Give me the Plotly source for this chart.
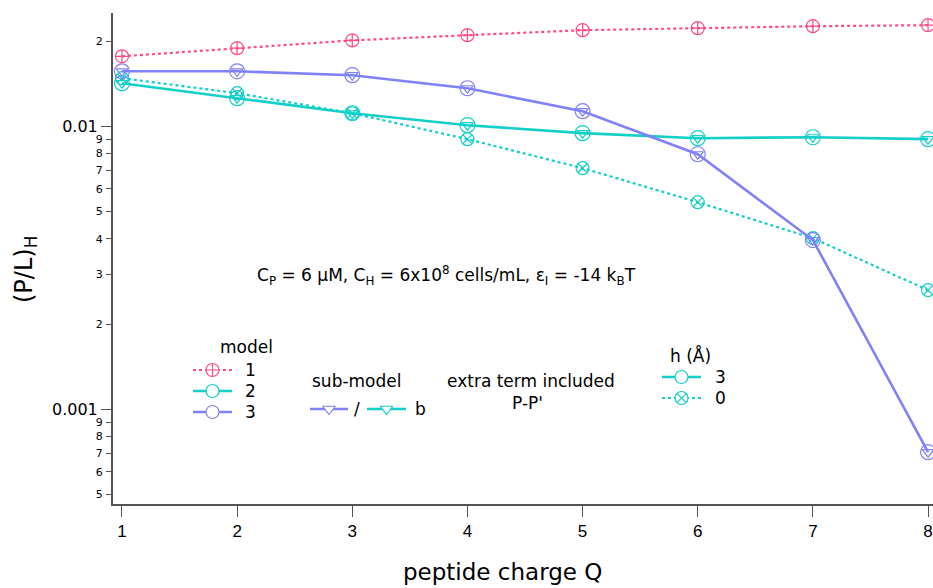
import plotly.graph_objects as go

# ---- data ----
charge_Q = [1, 2, 3, 4, 5, 6, 7, 8]
model1 = [0.01766, 0.01887, 0.0201, 0.02097, 0.02184, 0.0222, 0.02256, 0.02275]
model3b = [0.01563, 0.01563, 0.01514, 0.01362, 0.01130, 0.00796, 0.00396, 0.000705]
model2b_h3 = [0.01419, 0.01256, 0.01111, 0.01008, 0.00945, 0.00907, 0.00914, 0.00900]
model2b_h0 = [0.01478, 0.01308, 0.01111, 0.00900, 0.00711, 0.00539, 0.00402, 0.002634]

x_ticks = [1, 2, 3, 4, 5, 6, 7, 8]
y_major_vals = [0.01, 0.001]
y_major_text = ["0.01", "0.001"]
y_minor_vals = [0.02, 0.009, 0.008, 0.007, 0.006, 0.005, 0.004, 0.003, 0.002,
                0.0009, 0.0008, 0.0007, 0.0006, 0.0005]
y_minor_text = ["2", "9", "8", "7", "6", "5", "4", "3", "2", "9", "8", "7", "6", "5"]

PINK = "#ff4a88"
TEAL = "#12cfc8"
PURPLE = "#8181fb"
AX = "#555555"
FONT = "DejaVu Sans"
TICKFONT = "Liberation Sans"

fig = go.Figure()

# model 1 (dotted, circle-cross)
fig.add_trace(go.Scatter(x=charge_Q, y=model1, mode="lines+markers",
                         line=dict(color=PINK, width=2.2, dash="dot"),
                         marker=dict(symbol="circle-cross-open", size=13, color=PINK,
                                     line=dict(width=1.2, color=PINK))))
# model 2, h=0 (dotted, circle-x)
fig.add_trace(go.Scatter(x=charge_Q, y=model2b_h0, mode="lines+markers",
                         line=dict(color=TEAL, width=2.2, dash="dot"),
                         marker=dict(symbol="circle-x-open", size=13, color=TEAL,
                                     line=dict(width=1.2, color=TEAL))))
# model 2, h=3 sub-model b
fig.add_trace(go.Scatter(x=charge_Q, y=model2b_h3, mode="lines+markers",
                         line=dict(color=TEAL, width=2.6),
                         marker=dict(symbol="circle-open", size=15, color=TEAL,
                                     line=dict(width=1.2, color=TEAL))))
fig.add_trace(go.Scatter(x=charge_Q, y=model2b_h3, mode="markers",
                         marker=dict(symbol="triangle-down-open", size=10, color=TEAL,
                                     line=dict(width=1.2, color=TEAL))))
# model 3 sub-model b
fig.add_trace(go.Scatter(x=charge_Q, y=model3b, mode="lines+markers",
                         line=dict(color=PURPLE, width=2.6),
                         marker=dict(symbol="circle-open", size=15, color=PURPLE,
                                     line=dict(width=1.2, color=PURPLE))))
fig.add_trace(go.Scatter(x=charge_Q, y=model3b, mode="markers",
                         marker=dict(symbol="triangle-down-open", size=10, color=PURPLE,
                                     line=dict(width=1.2, color=PURPLE))))

# minor-axis helper trace (invisible) so yaxis2 renders
fig.add_trace(go.Scatter(x=[charge_Q[0]], y=[model1[0]], mode="markers",
                         marker=dict(opacity=0), yaxis="y2", hoverinfo="skip"))

# ---- legend glyphs on a pixel-like overlay axis ----
def glyph(x0, x1, y, color, dash, symbol, size=13):
    fig.add_trace(go.Scatter(x=[x0, x1], y=[y, y], mode="lines", xaxis="x3", yaxis="y3",
                             line=dict(color=color, width=2.4 if dash == "solid" else 2.2, dash=dash),
                             hoverinfo="skip"))
    fig.add_trace(go.Scatter(x=[(x0 + x1) / 2], y=[y], mode="markers", xaxis="x3", yaxis="y3",
                             marker=dict(symbol=symbol, size=size, color="white",
                                         line=dict(width=1.2, color=color)),
                             hoverinfo="skip"))

glyph(193, 232, 370, PINK, "dot", "circle-cross")
glyph(193, 232, 391, TEAL, "solid", "circle")
glyph(193, 232, 412, PURPLE, "solid", "circle")
glyph(310, 348, 409, PURPLE, "solid", "triangle-down", 11)
glyph(367, 406, 409, TEAL, "solid", "triangle-down", 11)
glyph(662, 701, 377, TEAL, "solid", "circle")
glyph(662, 701, 398, TEAL, "dot", "circle-x")

ann = []
def txt(x, y, s, size=17, anchor="center"):
    ann.append(dict(x=x, y=y, xref="x3", yref="y3", text=s, showarrow=False,
                    xanchor=anchor, yanchor="middle", font=dict(size=size, color="black", family=FONT)))

txt(246, 347, "model")
txt(243, 370, "1", anchor="left")
txt(243, 391, "2", anchor="left")
txt(243, 412, "3", anchor="left")
txt(357, 381, "sub-model")
txt(357, 409, "/")
txt(413, 409, "b", anchor="left")
txt(531, 381, "extra term included")
txt(527, 403, "P-P'")
txt(690, 355, "h (Å)")
txt(713, 377, "3", anchor="left")
txt(713, 398, "0", anchor="left")
txt(446, 275, "C<sub>P</sub> = 6 μM, C<sub>H</sub> = 6x10<sup>8</sup> cells/mL, ε<sub>I</sub> = -14 k<sub>B</sub>T")

# axis titles (paper coordinates)
ann.append(dict(x=(25 - 113) / 820, y=(504 - 270) / 491, xref="paper", yref="paper",
                text="(P/L)<sub>H</sub>", showarrow=False, textangle=-90,
                xanchor="center", yanchor="middle",
                font=dict(size=24, color="black", family=FONT)))
ann.append(dict(x=(502 - 113) / 820, y=(504 - 572) / 491, xref="paper", yref="paper",
                text="peptide charge Q", showarrow=False, xanchor="center", yanchor="middle",
                font=dict(size=23, color="black", family=FONT)))

yr = [-3.335, -1.600]
fig.update_layout(
    width=933, height=588,
    margin=dict(l=113, r=0, t=13, b=84),
    paper_bgcolor="white", plot_bgcolor="white",
    showlegend=False,
    font=dict(family=FONT, color="black"),
    annotations=ann,
    xaxis=dict(range=[0.922, 8.043], tickvals=x_ticks, ticks="outside", ticklen=11,
               tickwidth=1.2, tickcolor=AX, showline=True, linecolor=AX, linewidth=2,
               showgrid=False, zeroline=False, tickfont=dict(size=17, family=TICKFONT)),
    yaxis=dict(type="log", range=yr, tickvals=y_major_vals, ticktext=y_major_text,
               ticks="outside", ticklen=10, tickwidth=1.2, tickcolor=AX, showline=True,
               linecolor=AX, linewidth=2, showgrid=False, zeroline=False,
               tickfont=dict(size=16, family=FONT)),
    yaxis2=dict(type="log", range=yr, overlaying="y", side="left", tickvals=y_minor_vals,
                ticktext=y_minor_text, ticks="outside", ticklen=6, tickwidth=1.2,
                tickcolor=AX, showline=False, showgrid=False, zeroline=False,
                tickfont=dict(size=11, family=FONT), ticklabelstandoff=1),
    xaxis3=dict(range=[113, 933], overlaying="x", visible=False),
    yaxis3=dict(range=[504, 13], overlaying="y", visible=False),
)

fig.write_html("out.html", config={"displayModeBar": False},
               post_script="document.body.style.margin='0px';")
